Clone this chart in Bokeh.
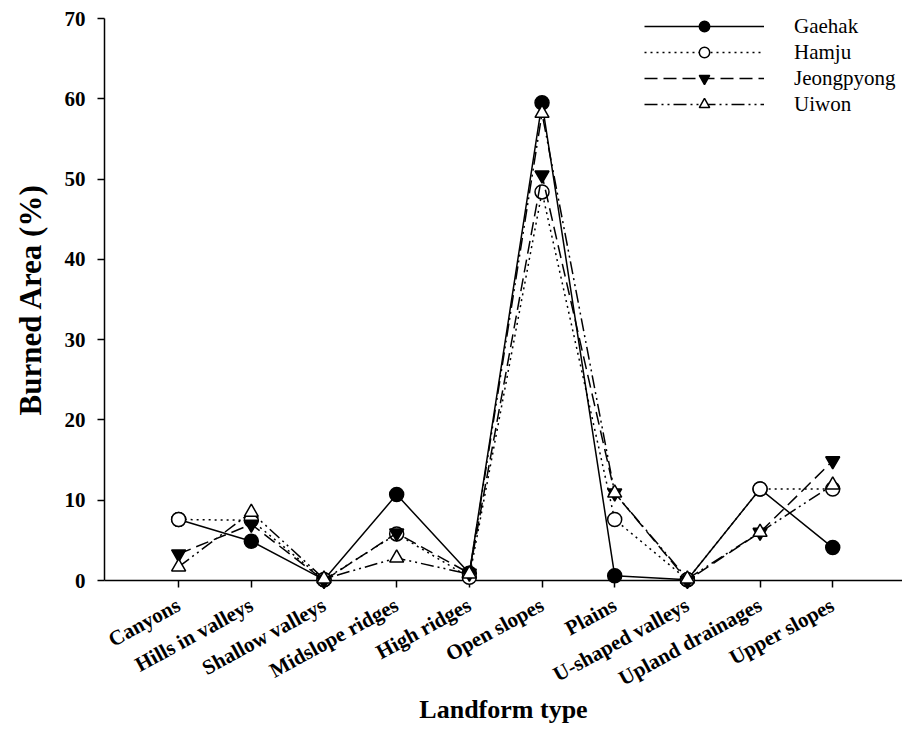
import math
import numpy as np
from bokeh.plotting import figure
from bokeh.models import Range1d, FixedTicker, Legend, LegendItem
from bokeh.embed import file_html
from bokeh.resources import INLINE

categories = ["Canyons", "Hills in valleys", "Shallow valleys", "Midslope ridges",
              "High ridges", "Open slopes", "Plains", "U-shaped valleys",
              "Upland drainages", "Upper slopes"]
gaehak = [7.6, 4.9, 0.1, 10.7, 0.9, 59.5, 0.6, 0.1, 11.4, 4.1]
hamju = [7.6, 7.5, 0.1, 5.8, 0.4, 48.4, 7.6, 0.1, 11.4, 11.4]
jeongpyong = [3.3, 7.0, 0.0, 5.9, 0.9, 50.5, 10.9, 0.0, 6.0, 14.9]
uiwon = [1.7, 8.5, 0.2, 2.8, 0.8, 58.2, 10.9, 0.2, 6.0, 11.9]
y_ticks = [0, 10, 20, 30, 40, 50, 60, 70]

FONT = "Liberation Serif"
x = list(range(len(categories)))

p = figure(width=902, height=749,
           x_range=Range1d(-1.02, 9.96), y_range=Range1d(0, 70),
           output_backend="svg", toolbar_location=None,
           min_border_left=104, min_border_right=0,
           min_border_top=18, min_border_bottom=169)
p.outline_line_color = None
p.xgrid.grid_line_color = None
p.ygrid.grid_line_color = None
p.background_fill_color = "white"
p.border_fill_color = "white"

series = [
    ("Gaehak", gaehak, None, "circle", "black"),
    ("Hamju", hamju, "2 4", "circle", "white"),
    ("Jeongpyong", jeongpyong, "13 6", "inverted_triangle", "black"),
    ("Uiwon", uiwon, "13 4 2 4 2 4", "triangle", "white"),
]

items = []
for name, vals, dash, marker, fill in series:
    kw = {}
    if dash:
        kw["line_dash"] = dash
    ln = p.line(x, vals, line_color="black", line_width=1.5, level="overlay", **kw)
    sc = p.scatter(x, vals, marker=marker, size=14, fill_color=fill,
                   line_color="black", line_width=1.5, level="overlay")
    items.append(LegendItem(label=name, renderers=[ln, sc]))

legend = Legend(items=items, location=(540, 463))
legend.glyph_width = 120
legend.glyph_height = 26
legend.label_height = 26
legend.spacing = 0
legend.padding = 6
legend.margin = 0
legend.label_standoff = 30
legend.label_text_font = FONT
legend.label_text_font_size = "21px"
legend.label_text_color = "black"
legend.border_line_color = None
legend.background_fill_alpha = 0
p.add_layout(legend)

# x axis
xa = p.xaxis[0]
xa.ticker = FixedTicker(ticks=x)
xa.major_label_overrides = {i: c for i, c in enumerate(categories)}
xa.major_label_orientation = 0.5
xa.minor_tick_line_color = None
xa.major_tick_in = 0
xa.major_tick_out = 7
xa.axis_line_width = 1.5
xa.major_tick_line_width = 1.5
xa.axis_line_color = "black"
xa.major_tick_line_color = "black"
xa.major_label_text_font = FONT
xa.major_label_text_font_style = "bold"
xa.major_label_text_font_size = "21px"
xa.major_label_text_color = "black"
xa.major_label_standoff = 16
xa.axis_label = "Landform type"
xa.axis_label_text_font = FONT
xa.axis_label_text_font_style = "bold"
xa.axis_label_text_font_size = "26px"
xa.axis_label_text_color = "black"
xa.axis_label_standoff = -9

# y axis
ya = p.yaxis[0]
ya.ticker = FixedTicker(ticks=y_ticks)
ya.minor_tick_line_color = None
ya.major_tick_in = 0
ya.major_tick_out = 7
ya.axis_line_width = 1.5
ya.major_tick_line_width = 1.5
ya.axis_line_color = "black"
ya.major_tick_line_color = "black"
ya.major_label_text_font = FONT
ya.major_label_text_font_style = "bold"
ya.major_label_text_font_size = "21px"
ya.major_label_text_color = "black"
ya.major_label_standoff = 12
ya.axis_label = "Burned Area (%)"
ya.axis_label_text_font = FONT
ya.axis_label_text_font_style = "bold"
ya.axis_label_text_font_size = "31px"
ya.axis_label_text_color = "black"
ya.axis_label_standoff = 14

open("out.html", "w").write(file_html(p, INLINE))
